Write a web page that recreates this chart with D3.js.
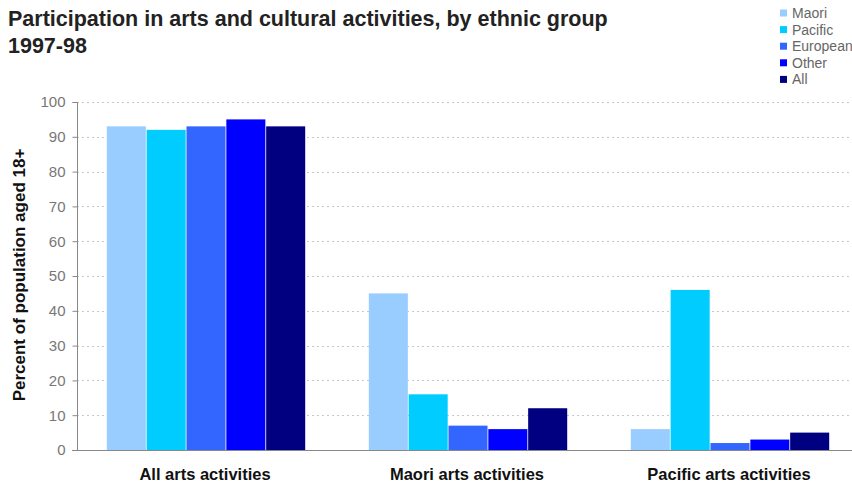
<!DOCTYPE html>
<html>
<head>
<meta charset="utf-8">
<script src="https://cdn.jsdelivr.net/npm/d3@7"></script>
<style>
  body { margin: 0; background: #fff; }
  svg { font-family: Arial, "Liberation Sans", sans-serif; }
</style>
</head>
<body>
<div id="chart"></div>
<script>
var categories = ["All arts activities", "Maori arts activities", "Pacific arts activities"];
var groups = ["Maori", "Pacific", "European", "Other", "All"];
var colors = ["#99ccff", "#00ccff", "#3366ff", "#0000ff", "#000080"];
var maori = [93, 45, 6];
var pacific = [92, 16, 46];
var european = [93, 7, 2];
var other = [95, 6, 3];
var all = [93, 12, 5];
var yTicks = [0, 10, 20, 30, 40, 50, 60, 70, 80, 90, 100];

var series = [maori, pacific, european, other, all];
var width = 852, height = 483;
var margin = { left: 77, top: 102, bottom: 33 };

var svg = d3.select("#chart").append("svg")
    .attr("width", width)
    .attr("height", height);

var x0 = d3.scaleBand()
    .domain(categories)
    .range([margin.left, 863])
    .paddingInner(0)
    .paddingOuter(0);

var x1 = d3.scaleBand()
    .domain(groups)
    .range([29, 229])
    .padding(0.02);

var y = d3.scaleLinear()
    .domain([0, 100])
    .range([height - margin.bottom, margin.top]);

// gridlines
svg.append("g")
    .selectAll("line")
    .data(yTicks.slice(1))
    .enter()
    .append("line")
    .attr("x1", margin.left)
    .attr("x2", width)
    .attr("y1", function(d) { return Math.round(y(d)) + 0.5; })
    .attr("y2", function(d) { return Math.round(y(d)) + 0.5; })
    .style("stroke", "#c8c8c8")
    .style("stroke-dasharray", "2,3");

// bars
var groupG = svg.append("g")
    .selectAll("g")
    .data(categories)
    .enter()
    .append("g")
    .attr("transform", function(d) { return "translate(" + x0(d) + ",0)"; });

groupG.selectAll("rect")
    .data(function(d, ci) {
        return groups.map(function(g, gi) { return { key: g, i: gi, value: series[gi][ci] }; });
    })
    .enter()
    .append("rect")
    .attr("x", function(d) { return x1(d.key); })
    .attr("width", x1.bandwidth())
    .attr("y", function(d) { return y(d.value); })
    .attr("height", function(d) { return y(0) - y(d.value); })
    .style("fill", function(d) { return colors[d.i]; });

// y axis
var yAxis = svg.append("g")
    .attr("transform", "translate(" + (margin.left + 0.5) + ",0)")
    .call(d3.axisLeft(y).tickValues(yTicks).tickSize(5).tickPadding(7));
yAxis.select(".domain").style("stroke", "#888").attr("d", "M-5," + (y(100) + 0.5) + "H0V" + (y(0) + 0.5));
yAxis.selectAll(".tick line").style("stroke", "#888");
yAxis.selectAll("text").style("font-size", "15px").style("fill", "#777");

// x axis line
svg.append("line")
    .attr("x1", margin.left - 5)
    .attr("x2", width)
    .attr("y1", Math.round(y(0)) + 0.5)
    .attr("y2", Math.round(y(0)) + 0.5)
    .style("stroke", "#888");

svg.append("g")
    .selectAll("text")
    .data(categories)
    .enter()
    .append("text")
    .attr("x", function(d) { return x0(d) + 128; })
    .attr("y", 480)
    .attr("text-anchor", "middle")
    .style("font-size", "16.5px")
    .style("font-weight", "bold")
    .style("fill", "#111")
    .text(function(d) { return d; });

// y label
svg.append("text")
    .attr("transform", "translate(25," + 275 + ") rotate(-90)")
    .attr("text-anchor", "middle")
    .style("font-size", "17px")
    .style("font-weight", "bold")
    .style("fill", "#111")
    .text("Percent of population aged 18+");

// title
svg.append("text")
    .attr("x", 8)
    .attr("y", 26)
    .style("font-size", "21.5px")
    .style("font-weight", "bold")
    .style("fill", "#222")
    .text("Participation in arts and cultural activities, by ethnic group");
svg.append("text")
    .attr("x", 8)
    .attr("y", 53)
    .style("font-size", "21.5px")
    .style("font-weight", "bold")
    .style("fill", "#222")
    .text("1997-98");

// legend
var legend = svg.append("g")
    .selectAll("g")
    .data(groups)
    .enter()
    .append("g")
    .attr("transform", function(d, i) { return "translate(780," + (13 + i * 16.6) + ")"; });
legend.append("rect")
    .attr("x", 0)
    .attr("y", -3.5)
    .attr("width", 7)
    .attr("height", 7)
    .style("fill", function(d, i) { return colors[i]; });
legend.append("text")
    .attr("x", 12)
    .attr("y", 5)
    .style("font-size", "14px")
    .style("fill", "#666")
    .text(function(d) { return d; });
</script>
</body>
</html>
